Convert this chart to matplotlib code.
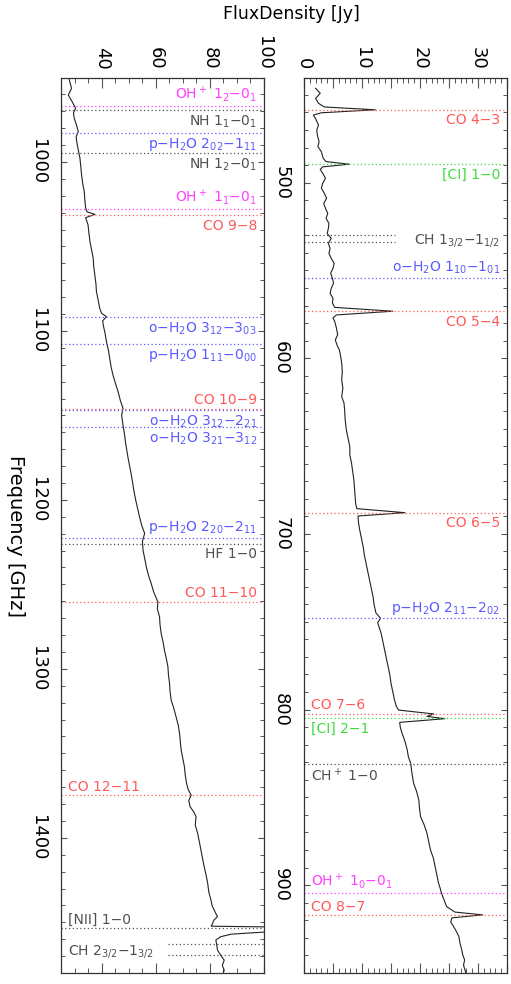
"""
plot.py
Rotated FTS spectrum: flux density vs frequency in two stacked panels,
with line identifications drawn as dotted markers.
"""

import numpy as np
import matplotlib
matplotlib.use("Agg")
import matplotlib.pyplot as plt
from matplotlib.ticker import MultipleLocator

plt.rcParams['font.family'] = ['DejaVu Sans']
plt.rcParams['mathtext.default'] = 'regular'
plt.rcParams['mathtext.fontset'] = 'dejavusans'

# --- spectrum (GHz, Jy) ---
spec_freq = [
    446.3, 449.1, 452.0, 454.8, 456.9, 458.5, 460.2, 461.5, 463.5, 467.2,
    470.0, 472.9, 476.7, 479.5, 482.4, 486.1, 488.0, 489.5, 491.0, 492.5,
    495.0, 497.5, 500.5, 503.2, 506.0, 508.9, 511.8, 514.6, 517.5, 520.3,
    523.2, 526.0, 529.0, 531.7, 534.5, 537.4, 540.3, 543.1, 546.0, 548.7,
    551.5, 554.4, 557.3, 560.1, 563.0, 565.8, 568.5, 571.0, 573.2, 575.3,
    577.0, 579.1, 582.9, 586.5, 589.6, 592.5, 595.3, 598.5, 602.8, 607.5,
    612.3, 617.0, 621.9, 625.5, 629.4, 635.0, 640.8, 645.5, 650.3, 655.0,
    659.8, 664.5, 669.3, 674.0, 678.8, 682.5, 685.6, 687.9, 689.8, 693.5,
    697.7, 702.5, 707.2, 712.0, 716.7, 721.5, 726.2, 731.0, 735.7, 740.5,
    745.0, 748.0, 750.5, 756.6, 761.3, 766.1, 770.8, 775.6, 780.3, 785.0,
    789.8, 794.5, 798.0, 800.3, 802.5, 803.9, 805.2, 807.3, 810.0, 813.5,
    818.0, 823.0, 827.0, 830.6, 836.0, 842.0, 846.5, 851.5, 856.0, 861.0,
    865.5, 870.4, 875.0, 879.9, 884.5, 889.4, 894.0, 898.9, 902.0, 904.6,
    908.0, 912.2, 915.3, 916.9, 918.6, 921.0, 923.6, 926.5, 929.3, 933.0,
    936.9, 940.0, 942.6, 945.5, 949.9,
    950.3, 953.5, 956.4, 960.4, 964.0, 968.2, 971.0, 974.2, 978.0, 982.1,
    985.0, 988.0, 993.0, 997.8, 1002.5, 1007.7, 1012.5, 1017.6, 1022.5, 1027.2,
    1029.5, 1031.0, 1033.0, 1037.3, 1042.0, 1047.1, 1052.0, 1057.0, 1062.0, 1066.9,
    1072.0, 1076.8, 1081.5, 1086.6, 1089.5, 1091.6, 1094.0, 1096.5, 1101.5, 1106.4,
    1111.3, 1116.2, 1121.2, 1126.1, 1131.0, 1136.0, 1141.0, 1145.8, 1150.0, 1155.7,
    1160.5, 1165.6, 1170.5, 1175.4, 1180.3, 1185.3, 1190.2, 1195.2, 1200.1, 1205.0,
    1210.0, 1215.0, 1219.8, 1224.5, 1229.7, 1234.5, 1239.5, 1244.5, 1249.4, 1254.8,
    1260.3, 1264.5, 1269.2, 1274.0, 1279.0, 1284.0, 1288.9, 1293.8, 1298.7, 1303.6,
    1308.6, 1313.5, 1318.5, 1323.5, 1328.3, 1333.2, 1338.2, 1343.2, 1348.1, 1353.0,
    1357.9, 1362.8, 1367.8, 1371.5, 1374.7, 1378.0, 1381.6, 1384.5, 1387.5, 1392.5,
    1397.4, 1402.3, 1407.2, 1412.2, 1417.1, 1422.0, 1427.0, 1432.0, 1436.8, 1440.0,
    1442.8, 1446.7, 1448.7, 1450.7, 1452.3, 1453.4, 1455.6, 1457.0, 1458.5, 1460.5,
    1463.0, 1466.4, 1469.5, 1472.4, 1475.5, 1478.3, 1479.8,
]
spec_flux = [
    2.0, 2.8, 2.0, 2.5, 3.5, 12.3, 3.0, 1.6, 2.0, 2.5,
    2.2, 2.3, 2.6, 2.4, 3.0, 3.3, 3.8, 7.8, 3.2, 2.8,
    3.3, 3.7, 3.2, 3.0, 3.5, 3.9, 3.4, 3.7, 4.1, 3.8,
    4.3, 4.2, 4.0, 4.7, 4.2, 4.5, 4.3, 4.7, 5.2, 5.0,
    4.6, 4.9, 5.1, 4.7, 4.5, 5.0, 4.9, 5.3, 15.3, 5.6,
    5.0, 5.3, 5.6, 5.8, 5.4, 5.7, 6.1, 6.3, 6.5, 6.6,
    6.5, 6.7, 6.5, 6.9, 7.0, 7.1, 7.3, 7.6, 7.9, 7.9,
    8.2, 8.4, 8.6, 8.7, 8.8, 8.9, 9.1, 17.4, 9.3, 9.4,
    9.6, 9.9, 10.2, 10.4, 10.7, 11.0, 11.3, 11.6, 11.9, 12.1,
    12.4, 13.2, 12.7, 13.3, 13.6, 13.9, 14.2, 14.5, 14.8, 15.0,
    15.3, 15.6, 15.9, 16.3, 22.4, 21.2, 24.3, 16.5, 16.6, 16.9,
    17.4, 17.8, 18.0, 18.4, 18.6, 18.9, 19.4, 19.8, 19.9, 20.1,
    20.7, 21.2, 21.5, 21.8, 22.3, 22.6, 22.9, 23.2, 23.5, 23.7,
    24.1, 24.6, 26.0, 30.8, 25.5, 25.3, 25.8, 26.3, 26.7, 26.9,
    27.2, 27.4, 27.7, 27.5, 27.9,
    27.9, 28.4, 28.9, 27.7, 29.0, 30.4, 29.6, 29.9, 30.7, 31.4,
    30.6, 30.8, 31.4, 32.0, 32.3, 32.6, 33.0, 33.6, 33.8, 34.1,
    34.6, 37.5, 34.1, 35.0, 35.3, 35.7, 36.3, 36.9, 37.1, 37.5,
    37.9, 38.1, 38.7, 39.3, 40.0, 41.8, 40.4, 40.6, 41.3, 41.8,
    42.5, 43.0, 43.5, 44.2, 45.1, 46.1, 46.9, 47.9, 47.4, 47.9,
    48.4, 48.8, 49.3, 49.8, 50.4, 51.0, 51.5, 52.0, 52.6, 53.3,
    54.0, 54.8, 55.9, 55.1, 55.3, 55.9, 56.5, 57.3, 58.3, 59.3,
    60.8, 60.6, 61.4, 61.6, 62.0, 62.7, 63.2, 63.9, 64.5, 64.7,
    65.1, 65.3, 65.7, 66.7, 67.5, 68.3, 68.8, 69.1, 69.4, 70.0,
    70.6, 70.9, 71.4, 72.0, 73.1, 72.2, 72.7, 74.0, 74.9, 74.6,
    75.5, 76.1, 76.7, 77.3, 77.9, 78.6, 79.2, 79.6, 80.4, 80.8,
    81.6, 82.8, 81.5, 81.0, 80.5, 135.0, 102.0, 88.0, 84.0, 82.2,
    82.5, 82.8, 84.0, 85.3, 84.6, 85.3, 85.0,
]

# --- line identifications ---
line_freq = [
    458.61, 489.57, 529.91, 533.93, 554.00, 573.23, 687.83, 748.07,
    802.40, 805.07, 830.73, 904.37, 916.94,
    966.69, 969.33, 982.72, 994.70, 1027.67, 1031.45, 1091.57, 1107.47,
    1145.91, 1147.04, 1156.78, 1222.31, 1225.98, 1260.31, 1374.71,
    1453.43, 1462.90, 1469.50,
]
line_species = [
    'CO', 'CI', 'other', 'other', 'H2O', 'CO', 'CO', 'H2O',
    'CO', 'CI', 'other', 'OH+', 'CO',
    'OH+', 'other', 'H2O', 'other', 'OH+', 'CO', 'H2O', 'H2O',
    'CO', 'H2O', 'H2O', 'H2O', 'other', 'CO', 'CO',
    'other', 'other', 'other',
]
M = '\u2212'
line_label = [
    f'CO 4{M}3', f'[CI] 1{M}0', 'CH 1$_{3/2}$' + M + '1$_{1/2}$', None,
    'o' + M + 'H$_2$O 1$_{10}$' + M + '1$_{01}$', f'CO 5{M}4', f'CO 6{M}5',
    'p' + M + 'H$_2$O 2$_{11}$' + M + '2$_{02}$',
    f'CO 7{M}6', f'[CI] 2{M}1', 'CH$^+$ 1' + M + '0',
    'OH$^+$ 1$_0$' + M + '0$_1$', f'CO 8{M}7',
    'OH$^+$ 1$_2$' + M + '0$_1$', 'NH 1$_1$' + M + '0$_1$',
    'p' + M + 'H$_2$O 2$_{02}$' + M + '1$_{11}$', 'NH 1$_2$' + M + '0$_1$',
    'OH$^+$ 1$_1$' + M + '0$_1$', f'CO 9{M}8',
    'o' + M + 'H$_2$O 3$_{12}$' + M + '3$_{03}$', 'p' + M + 'H$_2$O 1$_{11}$' + M + '0$_{00}$',
    f'CO 10{M}9', 'o' + M + 'H$_2$O 3$_{12}$' + M + '2$_{21}$',
    'o' + M + 'H$_2$O 3$_{21}$' + M + '3$_{12}$', 'p' + M + 'H$_2$O 2$_{20}$' + M + '2$_{11}$',
    f'HF 1{M}0', f'CO 11{M}10', f'CO 12{M}11', f'[NII] 1{M}0',
    'CH 2$_{3/2}$' + M + '1$_{3/2}$', None,
]

# label placement: side of panel, position relative to the line
label_place = [
    ('r', 'below'), ('r', 'below'), ('r', 'pair'), None, ('r', 'above'),
    ('r', 'below'), ('r', 'below'), ('r', 'above'),
    ('l', 'above'), ('l', 'below'), ('l', 'below'), ('l', 'above'), ('l', 'above'),
    ('r', 'above'), ('r', 'below'), ('r', 'below'), ('r', 'below'),
    ('r', 'above'), ('r', 'below'), ('r', 'below'), ('r', 'below'),
    ('r', 'above'), ('r', 'below'), ('r', 'below'), ('r', 'above'),
    ('r', 'below'), ('r', 'above'), ('l', 'above'), ('l', 'above'),
    ('l', 'pair'), None,
]

SPECIES_COLOR = {
    'CO': '#ff5a5a',
    'CI': '#3ddc3d',
    'H2O': '#5a5aff',
    'OH+': '#ff40ff',
    'other': '#505050',
}
LABEL_SIZE = 10


def setup_panel(ax, fmin, fmax, xlim, xmajor, xminor, xlabel_every, yticks):
    ax.set_xlim(*xlim)
    ax.set_ylim(fmax, fmin)
    for sp in ax.spines.values():
        sp.set_color('#333333')
        sp.set_linewidth(0.9)

    xt = np.arange(np.ceil(xlim[0] / xmajor) * xmajor, xlim[1] + 0.01, xmajor)
    ax.set_xticks(xt)
    ax.set_xticklabels([f'{v:.0f}' if abs(v % xlabel_every) < 1e-6 else '' for v in xt],
                       rotation=-90, fontsize=13)
    ax.xaxis.set_minor_locator(MultipleLocator(xminor))
    ax.set_yticks(yticks)
    ax.set_yticklabels([f'{v:.0f}' for v in yticks], rotation=-90, fontsize=13, va='center')
    ax.yaxis.set_minor_locator(MultipleLocator(10))

    ax.tick_params(axis='x', which='both', direction='in', top=True, bottom=True,
                   labeltop=True, labelbottom=False, color='#555555')
    ax.tick_params(axis='x', which='major', length=7.5, width=0.8, pad=6)
    ax.tick_params(axis='x', which='minor', length=3.8, width=0.7)
    ax.tick_params(axis='y', which='both', direction='in', left=True, right=True,
                   color='#555555')
    ax.tick_params(axis='y', which='major', length=4.5, width=0.8, pad=10)
    ax.tick_params(axis='y', which='minor', length=2.8, width=0.7)


def draw_lines(ax, fmin, fmax, xlim):
    span = xlim[1] - xlim[0]
    x_right = xlim[1] - 0.035 * span
    x_left = xlim[0] + 0.035 * span
    for i, f in enumerate(line_freq):
        if not (fmin <= f <= fmax):
            continue
        col = SPECIES_COLOR[line_species[i]]
        place = label_place[i]
        paired = (place is not None and place[1] == 'pair') or \
                 (place is None and label_place[i - 1][1] == 'pair')
        if paired:
            side = place[0] if place is not None else label_place[i - 1][0]
            if side == 'r':
                x0, x1 = xlim[0], xlim[0] + 0.45 * span
            else:
                x0, x1 = xlim[0] + 0.525 * span, xlim[1]
            ax.plot([x0, x1], [f, f], color=col, ls=(0, (1, 2)), lw=0.9)
        else:
            ax.axhline(f, color=col, ls=(0, (1, 2)), lw=0.9)

        if place is None or line_label[i] is None:
            continue
        side, pos = place
        x = x_right if side == 'r' else x_left
        ha = 'right' if side == 'r' else 'left'
        if pos == 'below':
            ax.annotate(line_label[i], xy=(x, f), xytext=(0, -2.5), textcoords='offset points',
                        ha=ha, va='top', color=col, fontsize=LABEL_SIZE)
        elif pos == 'above':
            ax.annotate(line_label[i], xy=(x, f), xytext=(0, 1), textcoords='offset points',
                        ha=ha, va='bottom', color=col, fontsize=LABEL_SIZE)
        else:
            fmid = 0.5 * (f + line_freq[i + 1])
            ax.annotate(line_label[i], xy=(x, fmid), xytext=(0, -1), textcoords='offset points',
                        ha=ha, va='center', color=col, fontsize=LABEL_SIZE)


def main():
    fig = plt.figure(figsize=(5.11, 9.84), dpi=100)
    bottom, height = 1 - 973 / 984, (973 - 78) / 984
    ax_hi = fig.add_axes([61 / 511, bottom, 203 / 511, height])
    ax_lo = fig.add_axes([304 / 511, bottom, 203 / 511, height])

    freq = np.array(spec_freq)
    flux = np.array(spec_flux)

    # low-frequency half (right panel)
    m = freq <= 950.0
    ax_lo.plot(flux[m], freq[m], color='#222222', lw=0.8)
    setup_panel(ax_lo, 440.4, 950.0, (0, 35), 5, 1, 10, [500, 600, 700, 800, 900])
    draw_lines(ax_lo, 440.4, 950.0, (0, 35))

    # high-frequency half (left panel)
    m = freq >= 950.0
    ax_hi.plot(flux[m], freq[m], color='#222222', lw=0.8)
    setup_panel(ax_hi, 950.3, 1480.0, (25, 100), 20, 5, 20, [1000, 1100, 1200, 1300, 1400])
    draw_lines(ax_hi, 950.3, 1480.0, (25, 100))

    fig.text(291 / 511, 1 - 14 / 984, 'FluxDensity [Jy]', ha='center', va='center', fontsize=12.5)
    fig.text(15 / 511, 1 - 536 / 984, 'Frequency [GHz]', ha='center', va='center',
             rotation=-90, fontsize=14)

    fig.savefig('out.png', dpi=100)
    print("saved out.png")


if __name__ == "__main__":
    main()
